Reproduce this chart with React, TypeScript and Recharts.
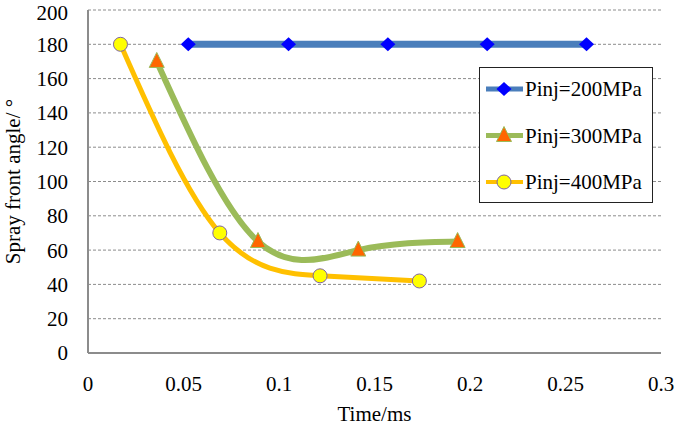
import { LineChart, Line, XAxis, YAxis, CartesianGrid } from 'recharts';

// time (ms) and spray front angle (deg) per injection pressure
const time200 = [0.0525, 0.105, 0.157, 0.209, 0.261];
const angle200 = [180, 180, 180, 180, 180];
const time300 = [0.036, 0.089, 0.1415, 0.1935];
const angle300 = [170, 65, 60, 65];
const time400 = [0.017, 0.069, 0.1215, 0.1735];
const angle400 = [180, 70, 45, 42];

const xTicks = [0, 0.05, 0.1, 0.15, 0.2, 0.25, 0.3];
const yTicks = [0, 20, 40, 60, 80, 100, 120, 140, 160, 180, 200];

const seriesNames = ['Pinj=200MPa', 'Pinj=300MPa', 'Pinj=400MPa'];

const FONT = "'Liberation Serif', 'Times New Roman', Times, serif";
const FS = 21;

const toPoints = (ts: number[], as: number[]) => ts.map((t, i) => ({ t, angle: as[i] }));

const data200 = toPoints(time200, angle200);
const data300 = toPoints(time300, angle300);
const data400 = toPoints(time400, angle400);

const Diamond = ({ cx, cy }: { cx: number; cy: number }) => (
  <polygon
    points={`${cx},${cy - 7} ${cx + 7.5},${cy} ${cx},${cy + 7} ${cx - 7.5},${cy}`}
    fill="#0000ff"
  />
);

const Triangle = ({ cx, cy }: { cx: number; cy: number }) => (
  <polygon
    points={`${cx},${cy - 9} ${cx + 7.5},${cy + 6} ${cx - 7.5},${cy + 6}`}
    fill="#ff6600"
    stroke="#9bbb59"
    strokeWidth={1}
  />
);

const Circle = ({ cx, cy }: { cx: number; cy: number }) => (
  <circle cx={cx} cy={cy} r={7} fill="#ffff00" stroke="#8064a2" strokeWidth={1} />
);

const makeDot = (Shape: typeof Diamond) => (props: any) => {
  const { cx, cy, index } = props;
  if (cx === undefined || cy === undefined) return <g key={`n-${index}`} />;
  return <Shape key={`d-${index}-${cx}`} cx={cx} cy={cy} />;
};

const legendRows = [
  { name: seriesNames[0], color: '#4a7ebb', width: 5, Shape: Diamond },
  { name: seriesNames[1], color: '#9bbb59', width: 5, Shape: Triangle },
  { name: seriesNames[2], color: '#ffc000', width: 4, Shape: Circle }
];

const textStyle = { fontFamily: FONT };

const LegendBox = () => (
  <div
    style={{
      position: 'absolute',
      left: 479,
      top: 67,
      width: 174,
      height: 136,
      border: '1.5px solid #222',
      background: '#fff',
      boxSizing: 'border-box'
    }}
  >
    <svg width={171} height={133} style={{ display: 'block' }}>
      {legendRows.map((r, i) => {
        const y = 21 + i * 46.5;
        return (
          <g key={r.name}>
            <line x1={6} x2={43} y1={y} y2={y} stroke={r.color} strokeWidth={r.width} />
            <r.Shape cx={24} cy={y} />
            <text x={45} y={y + 7} style={textStyle} fontSize={FS} fill="#000">
              {r.name}
            </text>
          </g>
        );
      })}
    </svg>
  </div>
);

export default function App() {
  return (
    <div style={{ position: 'absolute', left: 0, top: 0, width: 675, height: 429, background: '#fff', fontFamily: FONT }}>
      <LineChart width={675} height={429} margin={{ top: 10, right: 14, left: 0, bottom: 30 }} style={textStyle}>
        <CartesianGrid vertical={false} stroke="#8c8c8c" strokeDasharray="3 2" />
        <XAxis
          type="number"
          dataKey="t"
          domain={[0, 0.3]}
          ticks={xTicks}
          allowDataOverflow
          height={46}
          tickLine={false}
          tickSize={0}
          tickMargin={23}
          stroke="#8c8c8c"
          strokeWidth={2}
          tick={{ fill: '#000', fontSize: FS, style: textStyle }}
          tickFormatter={(v: number) => String(v)}
          label={{
            content: (p: any) => {
              const vb = p.viewBox || { x: 88, width: 573 };
              return (
                <text
                  x={vb.x + vb.width / 2}
                  y={421}
                  textAnchor="middle"
                  style={textStyle}
                  fontSize={FS}
                  fill="#000"
                >
                  Time/ms
                </text>
              );
            }
          }}
        />
        <YAxis
          type="number"
          domain={[0, 200]}
          ticks={yTicks}
          width={88}
          tickLine={false}
          tickSize={0}
          tickMargin={20}
          stroke="#8c8c8c"
          strokeWidth={2}
          tick={{ fill: '#000', fontSize: FS, style: textStyle }}
          label={{
            content: (p: any) => {
              const vb = p.viewBox || { y: 10, height: 343 };
              const cy = vb.y + vb.height / 2;
              return (
                <text
                  x={0}
                  y={0}
                  transform={`translate(20, ${cy}) rotate(-90)`}
                  textAnchor="middle"
                  style={textStyle}
                  fontSize={FS}
                  fill="#000"
                >
                  Spray front angle/ °
                </text>
              );
            }
          }}
        />
        <Line
          data={data200}
          dataKey="angle"
          name={seriesNames[0]}
          type="linear"
          stroke="#4a7ebb"
          strokeWidth={7}
          dot={makeDot(Diamond)}
          activeDot={false}
          isAnimationActive={false}
        />
        <Line
          data={data300}
          dataKey="angle"
          name={seriesNames[1]}
          type="natural"
          stroke="#9bbb59"
          strokeWidth={6}
          dot={makeDot(Triangle)}
          activeDot={false}
          isAnimationActive={false}
        />
        <Line
          data={data400}
          dataKey="angle"
          name={seriesNames[2]}
          type="natural"
          stroke="#ffc000"
          strokeWidth={5}
          dot={makeDot(Circle)}
          activeDot={false}
          isAnimationActive={false}
        />
      </LineChart>
      <LegendBox />
    </div>
  );
}
